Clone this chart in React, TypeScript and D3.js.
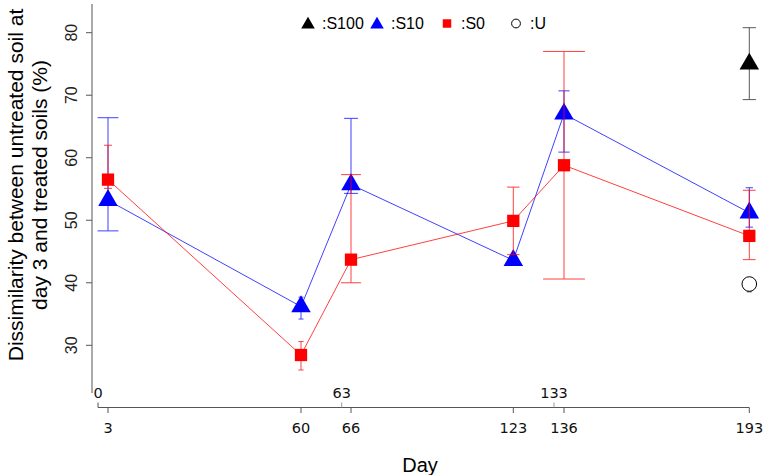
import * as d3 from "d3";

// days where samples were taken (bottom ticks) and treatment days (top ticks)
const DAYS = [3, 60, 66, 123, 136, 193];
const TREAT_DAYS = [0, 63, 133];
const Y_TICKS = [30, 40, 50, 60, 70, 80];

// S10 series: mean with lower / upper bounds
const S10_MEAN = [53.2, 36.2, 55.7, 43.6, 67.0, 51.2];
const S10_LOW = [48.3, 34.2, 54.3, 43.3, 60.9, 48.9];
const S10_HIGH = [66.4, 37.7, 66.3, 44.2, 70.7, 55.2];

// S0 series
const S0_MEAN = [56.5, 28.45, 43.7, 49.9, 58.8, 47.5];
const S0_LOW = [55.1, 26.05, 40.0, 44.5, 40.6, 43.7];
const S0_HIGH = [62.0, 30.6, 57.3, 55.3, 77.0, 54.8];

// single points at the last day
const S100_DAY = [193];
const S100_MEAN = [75.0];
const S100_LOW = [69.3];
const S100_HIGH = [80.8];

const U_DAY = [193];
const U_MEAN = [39.8];
const U_LOW = [38.55];
const U_HIGH = [40.6];

const LEGEND = [
  { label: ":S100", shape: "tri", color: "#000" },
  { label: ":S10", shape: "tri", color: "#0000ff" },
  { label: ":S0", shape: "sq", color: "#ff0000" },
  { label: ":U", shape: "circle", color: "#000" },
];

const W = 768;
const H = 475;

// the day axis is not linear: each segment has its own stretch
const x = d3
  .scaleLinear()
  .domain([0, 3, 60, 63, 66, 123, 133, 136, 193])
  .range([98, 108, 301, 341.7, 351, 513.3, 554, 564, 749.3]);
const y = d3.scaleLinear().domain([30, 80]).range([345.3, 32.7]);

const tri = d3.symbol(d3.symbolTriangle, 165)();
const sq = d3.symbol(d3.symbolSquare, 151)();
const triSmall = d3.symbol(d3.symbolTriangle, 80)();
const sqSmall = d3.symbol(d3.symbolSquare, 72)();

function ErrorBars({
  days,
  low,
  high,
  color,
}: {
  days: number[];
  low: number[];
  high: number[];
  color: string;
}) {
  return (
    <g stroke={color} strokeWidth={1} opacity={0.75}>
      {days.map((d, i) => {
        const cx = x(d);
        const y0 = y(low[i]);
        const y1 = y(high[i]);
        const half = Math.max(2.5, Math.abs(y0 - y1) * 0.092);
        return (
          <g key={i}>
            <line x1={cx} x2={cx} y1={y0} y2={y1} />
            <line x1={cx - half} x2={cx + half} y1={y0} y2={y0} />
            <line x1={cx - half} x2={cx + half} y1={y1} y2={y1} />
          </g>
        );
      })}
    </g>
  );
}

function Series({
  days,
  mean,
  low,
  high,
  color,
  symbol,
}: {
  days: number[];
  mean: number[];
  low: number[];
  high: number[];
  color: string;
  symbol: string;
}) {
  const line = d3
    .line<number>()
    .x((d) => x(d))
    .y((_, i) => y(mean[i]));
  return (
    <g>
      <ErrorBars days={days} low={low} high={high} color={color} />
      <path d={line(days) ?? ""} fill="none" stroke={color} strokeWidth={1} opacity={0.75} />
      {days.map((d, i) => (
        <path key={i} d={symbol} fill={color} transform={`translate(${x(d)},${y(mean[i])})`} />
      ))}
    </g>
  );
}

export default function App() {
  const axisColor = "#555";
  const axisY = 407.5;
  const yAxisX = 92;
  const sansR = "'Liberation Sans', Arial, sans-serif";
  const sansD = "'DejaVu Sans', sans-serif";

  const legendX = [308, 377, 447, 516];

  return (
    <svg
      width={W}
      height={H}
      style={{ position: "absolute", left: 0, top: 0, background: "#fff" }}
    >
      {/* y axis */}
      <line x1={yAxisX} x2={yAxisX} y1={4} y2={393} stroke={axisColor} />
      {Y_TICKS.map((t) => (
        <g key={t} transform={`translate(${yAxisX},${y(t)})`}>
          <line x1={-6} x2={0} stroke={axisColor} />
          <text
            transform="translate(-21,0) rotate(-90)"
            textAnchor="middle"
            dominantBaseline="central"
            fontFamily={sansR}
            fontSize={16}
            fill="#222"
          >
            {t}
          </text>
        </g>
      ))}
      <text
        transform="translate(15,185) rotate(-90)"
        textAnchor="middle"
        dominantBaseline="central"
        fontFamily={sansR}
        fontSize={21}
        fill="#000"
      >
        Dissimilarity between untreated soil at
      </text>
      <text
        transform="translate(39,185) rotate(-90)"
        textAnchor="middle"
        dominantBaseline="central"
        fontFamily={sansR}
        fontSize={21}
        fill="#000"
      >
        day 3 and treated soils (%)
      </text>

      {/* x axis */}
      <line x1={x(0)} x2={x(193)} y1={axisY} y2={axisY} stroke={axisColor} />
      {DAYS.map((d) => (
        <g key={d} transform={`translate(${x(d)},${axisY})`}>
          <line y1={0} y2={5.5} stroke={axisColor} />
          <text y={25} textAnchor="middle" fontFamily={sansD} fontSize={14.5} fill="#111">
            {d}
          </text>
        </g>
      ))}
      {TREAT_DAYS.map((d) => (
        <g key={d} transform={`translate(${x(d)},${axisY})`}>
          <line y1={-5} y2={0} stroke={d === 0 ? axisColor : "#999"} />
          <text y={-10} textAnchor="middle" fontFamily={sansD} fontSize={14.5} fill="#111">
            {d}
          </text>
        </g>
      ))}
      <text x={420} y={472} textAnchor="middle" fontFamily={sansR} fontSize={20} fill="#000">
        Day
      </text>

      {/* data */}
      <Series days={DAYS} mean={S10_MEAN} low={S10_LOW} high={S10_HIGH} color="#0000ff" symbol={tri} />
      <Series days={DAYS} mean={S0_MEAN} low={S0_LOW} high={S0_HIGH} color="#ff0000" symbol={sq} />
      <ErrorBars days={S100_DAY} low={S100_LOW} high={S100_HIGH} color="#222" />
      {S100_DAY.map((d, i) => (
        <path key={i} d={tri} fill="#000" transform={`translate(${x(d)},${y(S100_MEAN[i])})`} />
      ))}
      <ErrorBars days={U_DAY} low={U_LOW} high={U_HIGH} color="#222" />
      {U_DAY.map((d, i) => (
        <circle key={i} cx={x(d)} cy={y(U_MEAN[i])} r={7.3} fill="#fff" stroke="#000" strokeWidth={1} />
      ))}

      {/* legend */}
      {LEGEND.map((l, i) => (
        <g key={l.label} transform={`translate(${legendX[i]},23.5)`}>
          {l.shape === "tri" && <path d={triSmall} fill={l.color} transform="translate(0,1)" />}
          {l.shape === "sq" && <path d={sqSmall} fill={l.color} />}
          {l.shape === "circle" && <circle r={4.4} fill="#fff" stroke="#000" />}
          <text x={14} dominantBaseline="central" fontFamily={sansR} fontSize={16} fill="#000">
            {l.label}
          </text>
        </g>
      ))}
    </svg>
  );
}
